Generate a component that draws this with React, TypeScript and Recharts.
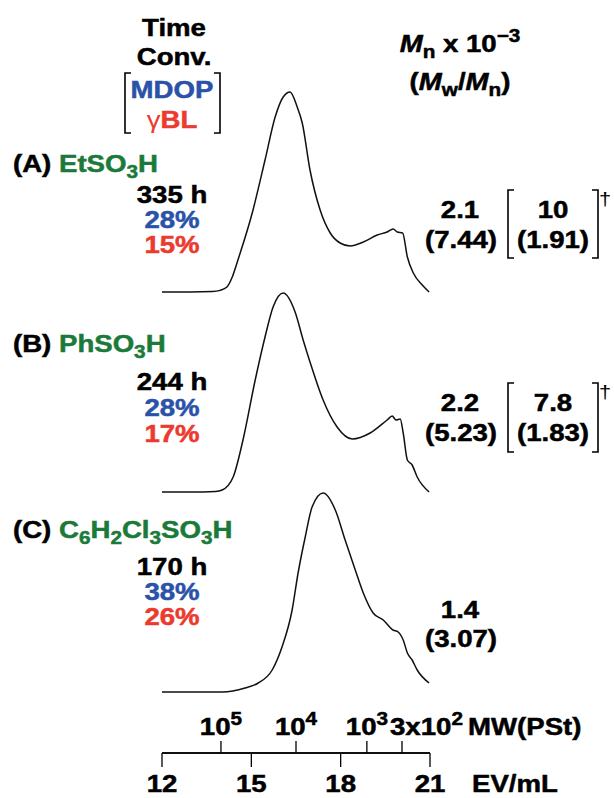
import React from "react";
import { LineChart, Line, XAxis, YAxis } from "recharts";

// elution volume axis (mL) and the PSt calibration marks on it
const EV_TICKS = [12, 15, 18, 21];
const MW_EV = [13.98, 16.5, 18.88, 20.06];
const MW_BASE = ["10", "10", "10", "3x10"];
const MW_EXP = ["5", "4", "3", "2"];

// (A) EtSO3H
const A_EV = [12.0, 12.94, 13.7, 13.95, 14.18, 14.36, 14.55, 15.03, 15.46, 15.8, 16.07, 16.3, 16.54, 16.71, 16.97, 17.31, 17.65, 17.98, 18.32, 18.76, 19.23, 19.56, 19.76, 19.9, 20.08, 20.24, 20.44, 20.74, 20.97];
const A_INT = [0, 0, 0.2, 0.8, 2.5, 7.5, 16, 39.5, 66, 87.5, 97.5, 100, 92.5, 84.5, 61, 41, 29.5, 24.5, 23, 25, 28.5, 30, 31.5, 30, 29.5, 17.5, 9.5, 3.5, 0];

// (B) PhSO3H
const B_EV = [12.0, 12.94, 13.8, 14.02, 14.39, 14.72, 15.13, 15.46, 15.73, 16.07, 16.47, 16.74, 16.97, 17.41, 17.88, 18.39, 18.99, 19.56, 19.73, 19.86, 20.0, 20.1, 20.24, 20.4, 20.57, 20.97];
const B_INT = [0, 0, 0.3, 1, 7.5, 26, 56, 77.5, 92.5, 99.5, 90, 76, 65, 46, 32.5, 26.5, 29.5, 36, 38, 36, 36.5, 29.5, 16, 13.5, 7.5, 0];

// (C) C6H2Cl3SO3H
const C_EV = [12.0, 14.02, 14.79, 15.23, 15.7, 16.03, 16.37, 16.57, 16.81, 17.04, 17.41, 17.82, 18.15, 18.49, 18.76, 19.09, 19.43, 19.76, 19.93, 20.1, 20.24, 20.4, 20.57, 20.97];
const C_INT = [0, 0, 2, 4.5, 11, 22.5, 41, 59.5, 77.5, 92.5, 99.5, 91, 76, 61, 49.5, 39.5, 36, 31, 30, 26, 19.5, 16, 11, 4.5];

// stacking of the three traces
const OFFSETS = [400, 200, 0];
const SCALE = 2;

const build = (ev: number[], inten: number[], off: number) =>
  ev.map((e, i) => ({ ev: e, y: off + inten[i] * SCALE }));

const dataA = build(A_EV, A_INT, OFFSETS[0]);
const dataB = build(B_EV, B_INT, OFFSETS[1]);
const dataC = build(C_EV, C_INT, OFFSETS[2]);

const BLUE = "#2a52a8";
const RED = "#ec3a2f";
const GREEN = "#1b7a3a";
const FONT = "'Liberation Sans', Arial, Helvetica, sans-serif";
const SX = 1.15;

function T({ x, y, anchor = "middle", fill = "#000", size = 24, weight = "bold", children }: any) {
  return (
    <text
      transform={`translate(${x},${y}) scale(${SX},1)`}
      textAnchor={anchor}
      fontSize={size}
      fontWeight={weight}
      fontFamily={FONT}
      fill={fill}
      stroke={weight === "bold" ? fill : "none"}
      strokeWidth={0.5}
    >
      {children}
    </text>
  );
}

// green subscripted formula pieces
const G = ({ children }: any) => <tspan fill={GREEN} stroke={GREEN}>{children}</tspan>;
const GSub = ({ children, up }: any) => (
  <>
    <tspan fill={GREEN} stroke={GREEN} fontSize={18} dy={6}>{children}</tspan>
    <tspan fill={GREEN} stroke={GREEN} dy={-6}>{up}</tspan>
  </>
);

function EvTick({ x, y, payload }: any) {
  return (
    <T x={x} y={y + 23}>
      {payload.value}
    </T>
  );
}

function MwTick({ x, y, payload }: any) {
  const i = MW_EV.indexOf(payload.value);
  const last = i === MW_EV.length - 1;
  return (
    <T x={last ? x - 12 : x} y={y - 4} anchor={last ? "start" : "middle"}>
      {MW_BASE[i]}
      <tspan fontSize={18} dy={-10}>
        {MW_EXP[i]}
      </tspan>
    </T>
  );
}

function Bracket({ x, y1, y2, dir }: any) {
  return (
    <path
      d={`M${x + dir * 6},${y1} H${x} V${y2} H${x + dir * 6}`}
      fill="none"
      stroke="#000"
      strokeWidth={1.6}
    />
  );
}

function Overlay() {
  return (
    <svg
      width={614}
      height={798}
      style={{ position: "absolute", left: 0, top: 0, pointerEvents: "none" }}
    >
      {/* left header */}
      <T x={174} y={36}>Time</T>
      <T x={174} y={65}>Conv.</T>
      <T x={172} y={98} fill={BLUE}>MDOP</T>
      <T x={172} y={128} fill={RED}>
        <tspan fontWeight="normal" stroke="none">γ</tspan>BL
      </T>
      <Bracket x={125} y1={73} y2={133} dir={1} />
      <Bracket x={220} y1={73} y2={133} dir={-1} />

      {/* right header */}
      <T x={460} y={52}>
        <tspan fontStyle="italic">M</tspan>
        <tspan fontSize={18} dy={6}>n</tspan>
        <tspan dy={-6}> x 10</tspan>
        <tspan fontSize={18} dy={-10}>−3</tspan>
      </T>
      <T x={460} y={90}>
        (<tspan fontStyle="italic">M</tspan>
        <tspan fontSize={18} dy={6}>w</tspan>
        <tspan dy={-6}>/</tspan>
        <tspan fontStyle="italic">M</tspan>
        <tspan fontSize={18} dy={6}>n</tspan>
        <tspan dy={-6}>)</tspan>
      </T>

      {/* (A) */}
      <T x={13} y={172} anchor="start">
        (A) <G>EtSO</G>
        <GSub up="H">3</GSub>
      </T>
      <T x={172} y={203}>335 h</T>
      <T x={172} y={228} fill={BLUE}>28%</T>
      <T x={172} y={253} fill={RED}>15%</T>
      <T x={460} y={218}>2.1</T>
      <T x={461} y={248}>(7.44)</T>
      <Bracket x={508} y1={190} y2={258} dir={1} />
      <T x={553} y={218}>10</T>
      <T x={553} y={248}>(1.91)</T>
      <Bracket x={598} y1={190} y2={258} dir={-1} />
      <T x={605} y={205} size={19} weight="normal">†</T>

      {/* (B) */}
      <T x={13} y={352} anchor="start">
        (B) <G>PhSO</G>
        <GSub up="H">3</GSub>
      </T>
      <T x={172} y={390}>244 h</T>
      <T x={172} y={416} fill={BLUE}>28%</T>
      <T x={172} y={442} fill={RED}>17%</T>
      <T x={460} y={411}>2.2</T>
      <T x={461} y={441}>(5.23)</T>
      <Bracket x={508} y1={383} y2={452} dir={1} />
      <T x={553} y={411}>7.8</T>
      <T x={553} y={441}>(1.83)</T>
      <Bracket x={598} y1={383} y2={452} dir={-1} />
      <T x={605} y={398} size={19} weight="normal">†</T>

      {/* (C) */}
      <T x={13} y={538} anchor="start">
        (C) <G>C</G>
        <GSub up="H">6</GSub>
        <GSub up="Cl">2</GSub>
        <GSub up="SO">3</GSub>
        <GSub up="H">3</GSub>
      </T>
      <T x={172} y={575}>170 h</T>
      <T x={172} y={600} fill={BLUE}>38%</T>
      <T x={172} y={625} fill={RED}>26%</T>
      <T x={460} y={618}>1.4</T>
      <T x={461} y={647}>(3.07)</T>

      {/* axis titles */}
      <T x={468} y={735} anchor="start">MW(PSt)</T>
      <T x={472} y={792} anchor="start">EV/mL</T>
    </svg>
  );
}

export default function App() {
  return (
    <div
      style={{
        position: "absolute",
        left: 0,
        top: 0,
        width: 614,
        height: 798,
        background: "#fff",
        overflow: "hidden",
      }}
    >
      <LineChart width={614} height={798} margin={{ top: 0, right: 184, bottom: 0, left: 162 }}>
        <XAxis
          xAxisId="mw"
          dataKey="ev"
          type="number"
          domain={[12, 21]}
          ticks={MW_EV}
          interval={0}
          mirror
          height={20}
          tickSize={12}
          axisLine={{ stroke: "#000", strokeWidth: 1.3 }}
          tickLine={{ stroke: "#000", strokeWidth: 1.3 }}
          tick={<MwTick />}
          allowDataOverflow
        />
        <XAxis
          xAxisId="ev"
          dataKey="ev"
          type="number"
          domain={[12, 21]}
          ticks={EV_TICKS}
          interval={0}
          height={45}
          tickSize={14}
          axisLine={{ stroke: "#000", strokeWidth: 1.3 }}
          tickLine={{ stroke: "#000", strokeWidth: 1.3 }}
          tick={<EvTick />}
          allowDataOverflow
        />
        <YAxis hide type="number" domain={[-61, 692]} allowDataOverflow />
        <Line xAxisId="ev" data={dataA} dataKey="y" type="monotone" stroke="#111" strokeWidth={1.5} dot={false} isAnimationActive={false} />
        <Line xAxisId="ev" data={dataB} dataKey="y" type="monotone" stroke="#111" strokeWidth={1.5} dot={false} isAnimationActive={false} />
        <Line xAxisId="ev" data={dataC} dataKey="y" type="monotone" stroke="#111" strokeWidth={1.5} dot={false} isAnimationActive={false} />
      </LineChart>
      <Overlay />
    </div>
  );
}
